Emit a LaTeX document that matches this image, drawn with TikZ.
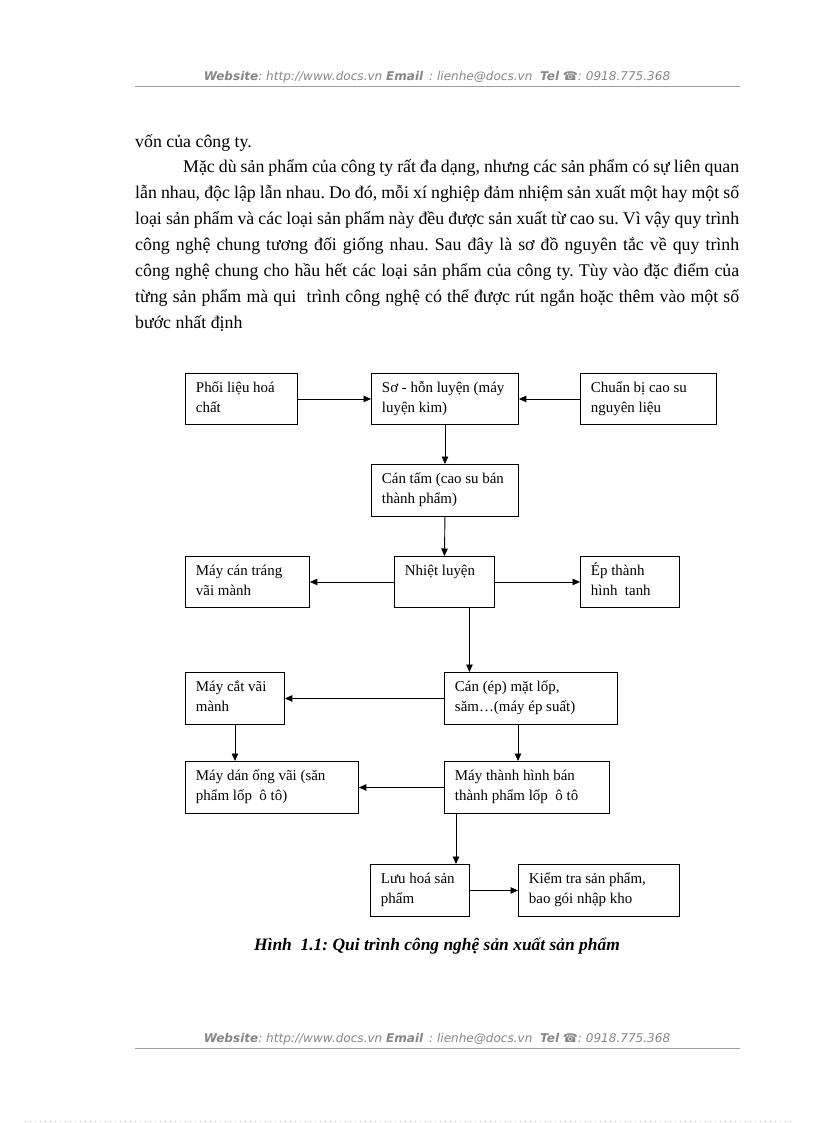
\documentclass[tikz,border=0pt]{standalone}
\usepackage{fontspec}
\setmainfont{Liberation Serif}
\newfontfamily\hdrfont{DejaVu Sans}
\usetikzlibrary{arrows.meta}
\definecolor{hdrgray}{RGB}{135,135,135}
\newcommand\bxt[3]{\parbox[c][#2bp][t]{#1bp}{\fontsize{15}{20.5}\selectfont\leftskip=10.5bp\rightskip=0pt plus 1fil\parindent=0pt\rule{0pt}{19bp}#3}}
\newcommand\jline[1]{\makebox[604bp][s]{#1}}
\tikzset{
  bx/.style={draw, line width=0.9bp, inner sep=0pt, anchor=north west},
  arr/.style={line width=0.9bp, -{Triangle[length=7.5bp,width=6.5bp]}},
  hdrtext/.style={anchor=base, inner sep=0pt, text=hdrgray, font=\hdrfont\fontsize{12.1}{14}\selectfont\itshape},
  hdrline/.style={draw=hdrgray!80, line width=0.8bp}
}
\begin{document}
\frenchspacing
\begin{tikzpicture}[x=1bp,y=-1bp]
\useasboundingbox[fill=white] (0,0) rectangle (816,1123);
% header / footer
\node[hdrtext] (hdr) at (437,80) {\textbf{Website}: http://www.docs.vn \textbf{Email} \,: lienhe@docs.vn \ \textbf{Tel} ☎: 0918.775.368};
\draw[hdrline] (135,86) -- (740,86);
\node[hdrtext] (ftr) at (437,1042) {\textbf{Website}: http://www.docs.vn \textbf{Email} \,: lienhe@docs.vn \ \textbf{Tel} ☎: 0918.775.368};
\draw[hdrline] (135,1048) -- (740,1048);
\draw[gray!45, line width=0.5bp, dash pattern=on 0.6bp off 4.4bp] (25,1121) -- (792,1121);
% body text
\node[anchor=base west, inner sep=0pt] (body) at (135,147) {\parbox[t]{604bp}{\fontsize{17.9}{26}\selectfont\parindent=0pt\frenchspacing
vốn của công ty.\\
\hspace*{48bp}\makebox[556bp][s]{Mặc dù sản phẩm của công ty rất đa dạng, nhưng các sản phẩm có sự liên quan}\\
\jline{lẫn nhau, độc lập lẫn nhau. Do đó, mỗi xí nghiệp đảm nhiệm sản xuất một hay một số}\\
\jline{loại sản phẩm và các loại sản phẩm này đều được sản xuất từ cao su. Vì vậy quy trình}\\
\jline{công nghệ chung tương đối giống nhau. Sau đây là sơ đồ nguyên tắc về quy trình}\\
\jline{công nghệ chung cho hầu hết các loại sản phẩm của công ty. Tùy vào đặc điểm của}\\
\jline{từng sản phẩm mà qui\ \ trình công nghệ có thể được rút ngắn hoặc thêm vào một số}\\
bước nhất định}};
% boxes
\node[bx] (phoi) at (185,373) {\bxt{112}{51}{Phối liệu hoá\\chất}};
\node[bx] (so) at (371,373) {\bxt{147}{51}{Sơ - hỗn luyện (máy\\luyện kim)}};
\node[bx] (chuan) at (580,373) {\bxt{136}{51}{Chuẩn bị cao su\\nguyên liệu}};
\node[bx] (cantam) at (371,464) {\bxt{147}{52}{Cán tấm (cao su bán\\thành phẩm)}};
\node[bx] (nhiet) at (394,556) {\bxt{100}{51}{Nhiệt luyện}};
\node[bx] (maycan) at (185,556) {\bxt{124}{51}{Máy cán tráng\\vãi mành}};
\node[bx] (ep) at (580,556) {\bxt{99}{51}{Ép thành\\hình\ \ tanh}};
\node[bx] (canep) at (444,672) {\bxt{173}{52}{Cán (ép) mặt lốp,\\săm…(máy ép suất)}};
\node[bx] (maycat) at (185,672) {\bxt{99}{52}{Máy cắt vãi\\mành}};
\node[bx] (mayan) at (185,761) {\bxt{173}{52}{Máy dán ống vãi (săn\\phẩm lốp\ \ ô tô)}};
\node[bx] (maythanh) at (444,761) {\bxt{165}{52}{Máy thành hình bán\\thành phẩm lốp\ \ ô tô}};
\node[bx] (luuhoa) at (370,864) {\bxt{99}{52}{Lưu hoá sản\\phẩm}};
\node[bx] (kiemtra) at (518,864) {\bxt{161}{52}{Kiểm tra sản phẩm,\\bao gói nhập kho}};
% connectors
\draw[arr] (phoi.east) -- (so.west);
\draw[arr] (chuan.west) -- (so.east);
\draw[arr] (so.south) -- (cantam.north);
\draw[arr] (cantam.south) -- (nhiet.north);
\draw[arr] (nhiet.west) -- (maycan.east);
\draw[arr] (nhiet.east) -- (ep.west);
\draw[arr] ([xshift=25bp]nhiet.south) -- ([xshift=25bp]nhiet.south |- canep.north);
\draw[arr] (canep.west) -- (maycat.east);
\draw[arr] (maycat.south) -- (maycat.south |- mayan.north);
\draw[arr] ([xshift=74bp]canep.south west) -- ([xshift=74bp]canep.south west |- maythanh.north);
\draw[arr] (maythanh.west) -- (mayan.east);
\draw[arr] ([xshift=12bp]maythanh.south west) -- ([xshift=12bp]maythanh.south west |- luuhoa.north);
\draw[arr] (luuhoa.east) -- (kiemtra.west);
% caption
\node[anchor=base, inner sep=0pt, font=\fontsize{17.5}{20}\selectfont\bfseries\itshape] (cap) at (437,950) {Hình\ \ 1.1: Qui\ trình công nghệ sản xuất sản phẩm};
\end{tikzpicture}
\end{document}
